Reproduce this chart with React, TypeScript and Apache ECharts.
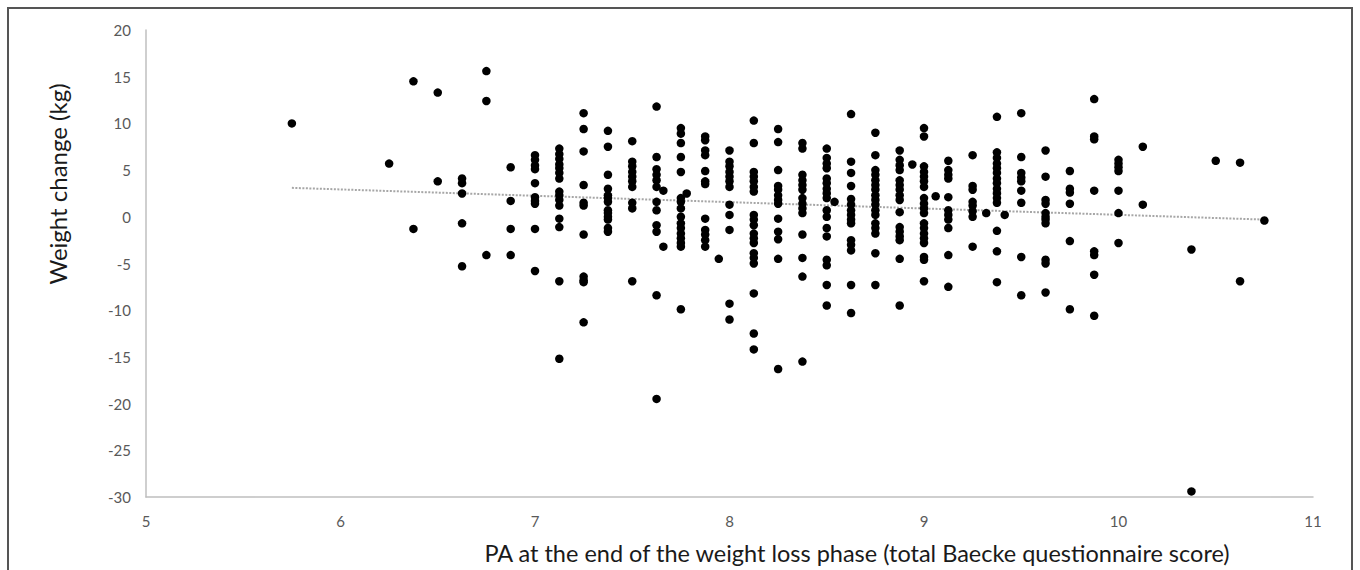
import React, { useEffect, useRef } from "react";
import * as echarts from "echarts";

// Baecke score columns (x) and weight change values (y) at each column
const xColumns: number[] = [
  5.75, 6.25, 6.375, 6.5, 6.625, 6.75, 6.875, 7.0, 7.125, 7.25, 7.375, 7.5, 7.625, 7.75, 7.875,
  8.0, 8.125, 8.25, 8.375, 8.5, 8.625, 8.75, 8.875, 9.0, 9.125, 9.25, 9.375, 9.5, 9.625, 9.75,
  9.875, 10.0, 10.125, 10.375, 10.5, 10.625, 10.75,
];

const yByColumn: number[][] = [
  [10.0],
  [5.7],
  [14.5, -1.3],
  [13.3, 3.8],
  [4.1, 3.6, 2.5, -0.7, -5.3],
  [15.6, 12.4, -4.1],
  [5.3, 1.7, -1.3, -4.1],
  [6.6, 6.1, 5.5, 5.1, 3.6, 2.1, 1.7, 1.4, -1.3, -5.8],
  [7.3, 6.7, 6.2, 5.6, 5.2, 4.7, 4.1, 2.7, 2.3, 1.8, 1.2, -0.2, -1.1, -6.9, -15.2],
  [11.1, 9.4, 7.0, 3.4, 1.5, 1.2, -1.9, -6.4, -6.8, -7.0, -11.3],
  [9.2, 7.5, 4.5, 3.0, 2.3, 2.0, 1.6, 0.7, 0.4, 0.0, -0.3, -1.2, -1.6],
  [8.1, 5.9, 5.4, 4.8, 4.3, 3.8, 3.2, 1.5, 0.9, -6.9],
  [11.8, 6.4, 5.1, 4.5, 3.9, 3.2, 1.6, 0.7, -0.9, -1.6, -8.4, -19.5],
  [9.5, 8.9, 7.9, 6.4, 4.8, 2.0, 1.6, 0.9, 0.0, -0.7, -1.2, -1.8, -2.3, -2.8, -3.2, -9.9],
  [8.6, 8.2, 7.1, 6.6, 4.9, 3.8, 3.5, -0.2, -1.4, -1.9, -2.5, -3.2],
  [7.1, 5.9, 5.4, 4.8, 4.3, 3.8, 3.2, 1.3, 0.2, -1.4, -9.3, -11.0],
  [10.3, 7.9, 4.8, 4.3, 3.8, 3.2, 2.7, 0.2, -0.3, -0.9, -1.8, -2.3, -2.8, -3.9, -4.4, -5.0, -8.2, -12.5, -14.2],
  [9.4, 8.0, 5.0, 3.3, 2.9, 2.3, 1.8, 1.4, -0.2, -1.6, -2.4, -4.5, -16.3],
  [7.9, 7.3, 4.5, 3.9, 3.4, 2.9, 2.0, 1.4, 0.9, 0.4, -1.9, -4.4, -6.4, -15.5],
  [7.3, 6.3, 5.7, 5.2, 4.1, 3.6, 3.0, 2.5, 2.0, 0.7, 0.0, -1.2, -2.1, -4.6, -5.2, -7.3, -9.5],
  [11.0, 5.9, 4.7, 3.3, 1.9, 1.3, 0.7, 0.2, -0.3, -0.7, -2.5, -3.0, -3.6, -7.3, -10.3],
  [9.0, 6.6, 5.0, 4.5, 3.9, 3.4, 2.9, 2.3, 1.8, 1.3, 0.7, 0.2, -0.7, -1.2, -1.8, -3.9, -7.3],
  [7.1, 6.1, 5.5, 5.0, 3.9, 3.4, 2.9, 2.3, 1.8, 0.5, -1.1, -1.6, -2.1, -2.5, -4.5, -9.5],
  [9.5, 8.6, 5.4, 4.8, 4.3, 3.8, 3.2, 2.0, 1.4, 0.9, 0.4, -0.7, -1.2, -1.8, -2.3, -2.8, -4.3, -4.6, -6.9],
  [6.0, 5.0, 4.5, 4.1, 2.1, 0.7, 0.2, -0.3, -1.2, -4.1, -7.5],
  [6.6, 3.3, 2.9, 1.6, 1.2, 0.6, 0.0, -3.2],
  [10.7, 6.9, 6.3, 5.7, 5.2, 4.7, 4.1, 3.6, 3.0, 2.5, 2.0, 1.5, -1.5, -3.7, -7.0],
  [11.1, 6.4, 4.7, 4.2, 3.8, 2.8, 1.5, -4.3, -8.4],
  [7.1, 4.3, 1.8, 1.4, 0.4, 0.0, -0.3, -0.7, -4.6, -5.0, -8.1],
  [4.9, 3.0, 2.6, 1.4, -2.6, -9.9],
  [12.6, 8.6, 8.3, 2.8, -3.7, -4.1, -6.2, -10.6],
  [6.1, 5.7, 5.3, 4.9, 2.8, 0.4, -2.8],
  [7.5, 1.3],
  [-3.5, -29.4],
  [6.0],
  [5.8, -6.9],
  [-0.4],
];

// Points that sit between the regular columns
const extraPoints: [number, number][] = [
  [7.66, 2.8],
  [7.66, -3.2],
  [7.78, 2.5],
  [7.945, -4.5],
  [8.54, 1.6],
  [8.94, 5.6],
  [9.06, 2.2],
  [9.32, 0.4],
  [9.415, 0.2],
];

// Linear trend line end points
const trendLine: [number, number][] = [
  [5.75, 3.1],
  [10.75, -0.3],
];

const xTitle = "PA at the end of the weight loss phase (total Baecke questionnaire score)";
const yTitle = "Weight change (kg)";

export default function App() {
  const ref = useRef<HTMLDivElement>(null);

  useEffect(() => {
    if (!ref.current) return;
    const chart = echarts.init(ref.current, undefined, { renderer: "svg" });
    const points: [number, number][] = [];
    xColumns.forEach((x, i) => {
      (yByColumn[i] || []).forEach((y) => points.push([x, y]));
    });
    extraPoints.forEach((p) => points.push(p));

    const font = "Lato, 'Open Sans', sans-serif";

    chart.setOption({
      animation: false,
      backgroundColor: "transparent",
      grid: { left: 146, right: 47, top: 30, bottom: 73, containLabel: false },
      xAxis: {
        type: "value",
        min: 5,
        max: 11,
        interval: 1,
        axisLine: { show: true, onZero: false, lineStyle: { color: "#bfbfbf", width: 1.5 } },
        axisTick: { show: false },
        splitLine: { show: false },
        axisLabel: { color: "#595959", fontSize: 15, fontFamily: font, margin: 16 },
      },
      yAxis: {
        type: "value",
        min: -30,
        max: 20,
        interval: 5,
        axisLine: { show: true, onZero: false, lineStyle: { color: "#bfbfbf", width: 1.5 } },
        axisTick: { show: false },
        splitLine: { show: false },
        axisLabel: { color: "#595959", fontSize: 15, fontFamily: font, margin: 15 },
      },
      series: [
        {
          type: "line",
          data: trendLine,
          symbol: "none",
          lineStyle: { color: "#a6a6a6", width: 2, type: [2, 1.5] },
          z: 1,
        },
        {
          type: "scatter",
          data: points,
          symbol: "circle",
          symbolSize: 8.5,
          itemStyle: { color: "#000000", opacity: 1 },
          z: 2,
        },
      ],
      graphic: [
        {
          type: "text",
          x: 57,
          y: 184,
          rotation: Math.PI / 2,
          style: {
            text: yTitle,
            fill: "#1a1a1a",
            font: `24px ${font}`,
            textAlign: "center",
            textVerticalAlign: "middle",
          },
        },
        {
          type: "text",
          x: 857,
          y: 553,
          style: {
            text: xTitle,
            fill: "#1a1a1a",
            font: `23.5px ${font}`,
            textAlign: "center",
            textVerticalAlign: "middle",
          },
        },
      ],
    });
    return () => chart.dispose();
  }, []);

  return (
    <div
      style={{
        position: "fixed",
        left: 0,
        top: 0,
        width: 1360,
        height: 570,
        background: "#ffffff",
        overflow: "hidden",
      }}
    >
      <div
        style={{
          position: "absolute",
          left: 7,
          top: 7,
          width: 1342,
          height: 600,
          borderTop: "2px solid #555555",
          borderLeft: "2px solid #555555",
          borderRight: "2px solid #555555",
        }}
      />
      <div ref={ref} style={{ position: "absolute", left: 0, top: 0, width: 1360, height: 570 }} />
    </div>
  );
}
